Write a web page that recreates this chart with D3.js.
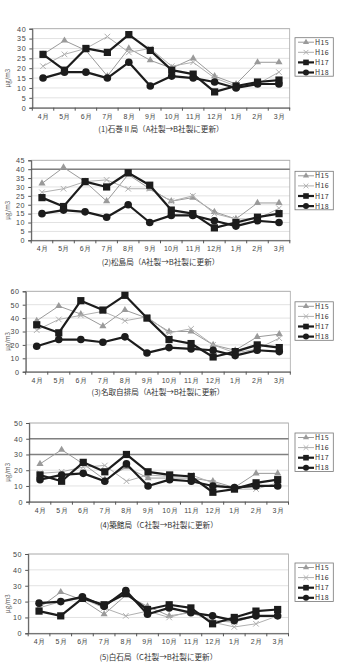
<!DOCTYPE html>
<html><head><meta charset="utf-8">
<script src="https://cdn.jsdelivr.net/npm/d3@7"></script>
<style>
body{margin:0;background:#fff;}
svg{display:block;font-family:"Noto Sans CJK JP","Noto Sans",sans-serif;}
</style></head>
<body><svg id="c" width="339" height="663"></svg>
<script>
const months = ["4月","5月","6月","7月","8月","9月","10月","11月","12月","1月","2月","3月"];
const seriesNames = ["H15","H16","H17","H18"];
const captions = [
  "(1)石巻Ⅱ局（A社製→B社製に更新）",
  "(2)松島局（A社製→B社製に更新）",
  "(3)名取自排局（A社製→B社製に更新）",
  "(4)築館局（C社製→B社製に更新）",
  "(5)白石局（C社製→B社製に更新）"
];
const yMaxes = [40, 45, 60, 50, 50];
const ySteps = [5, 5, 10, 10, 10];

// (1) 石巻Ⅱ局
const st1H15 = [27,34,29,16,30,24,20,25,16,12,23,23];
const st1H16 = [21,27,30,36,28,30,21,23,15,11,12,18];
const st1H17 = [27,19,30,28,37,29,19,17,8,11,13,14];
const st1H18 = [15,18,18,15,23,11,16,15,13,10,12,12];
// (2) 松島局
const st2H15 = [32,41,33,22,37,29,22,24,16,12,21,21];
const st2H16 = [27,29,33,34,29,29,22,25,15,12,12,18];
const st2H17 = [24,19,33,30,38,31,17,15,7,10,13,15];
const st2H18 = [15,17,16,13,20,10,14,14,11,8,11,10];
// (3) 名取自排局
const st3H15 = [38,49,43,34,46,40,30,30,20,16,26,28];
const st3H16 = [31,39,42,45,38,41,29,32,20,14,17,25];
const st3H17 = [35,29,53,46,57,40,24,21,11,15,20,18];
const st3H18 = [19,24,24,22,26,14,18,17,16,12,16,15];
// (4) 築館局
const st4H15 = [24,33,24,14,22,15,15,15,13,9,18,18];
const st4H16 = [18,19,22,23,13,17,16,17,12,8,8,12];
const st4H17 = [17,13,25,19,30,19,17,16,6,8,12,14];
const st4H18 = [14,17,18,13,24,10,14,13,10,9,10,10];
// (5) 白石局
const st5H15 = [16,26,21,12,24,17,11,13,8,7,11,11];
const st5H16 = [16,20,22,16,11,14,10,14,7,4,6,11];
const st5H17 = [14,11,22,18,25,15,18,16,6,10,14,15];
const st5H18 = [19,20,23,17,27,12,16,13,11,8,11,11];

const stations = [
  [st1H15,st1H16,st1H17,st1H18],
  [st2H15,st2H16,st2H17,st2H18],
  [st3H15,st3H16,st3H17,st3H18],
  [st4H15,st4H16,st4H17,st4H18],
  [st5H15,st5H16,st5H17,st5H18]
];
// reference lines (standard lines) per chart
const refLines = [[], [40], [], [40,30], []];

// layout (positions only)
const layout = [
  {top:28.7, bottom:107.7, left:32.3, right:289.7, cap:21.5, leg:9},
  {top:160.3, bottom:240.3, left:31.2, right:289.8, cap:21.7, leg:11},
  {top:291.3, bottom:371.7, left:25.7, right:290.3, cap:20, leg:10.5},
  {top:423, bottom:501.7, left:29.2, right:288.5, cap:23.3, leg:10},
  {top:554, bottom:633.3, left:28.2, right:288.5, cap:23.7, leg:9}
];
const styles = [
  {color:"#9a9a9a", w:1, marker:"triangle"},
  {color:"#b0b0b0", w:1, marker:"cross"},
  {color:"#1c1c1c", w:2.2, marker:"square"},
  {color:"#1c1c1c", w:2.2, marker:"circle"}
];

const svg = d3.select("#c");

function drawMarker(g, type, x, y, color, big){
  const s = big ? 1 : 0.75;
  if(type==="triangle"){
    g.append("path").attr("d", d3.symbol().type(d3.symbolTriangle).size(22*s)())
      .attr("transform",`translate(${x},${y})`).attr("fill",color);
  } else if(type==="cross"){
    g.append("path").attr("d", d3.symbol().type(d3.symbolX).size(22*s)())
      .attr("transform",`translate(${x},${y})`).attr("fill","none").attr("stroke",color).attr("stroke-width",1);
  } else if(type==="square"){
    const h = big?3.6:2.8;
    g.append("rect").attr("x",x-h).attr("y",y-h).attr("width",2*h).attr("height",2*h).attr("fill",color);
  } else {
    g.append("circle").attr("cx",x).attr("cy",y).attr("r",big?3.8:3).attr("fill",color);
  }
}

stations.forEach((data, i) => {
  const L = layout[i];
  const g = svg.append("g");
  const x = d3.scalePoint().domain(months).range([L.left, L.right]).padding(0.5);
  const y = d3.scaleLinear().domain([0, yMaxes[i]]).range([L.bottom, L.top]);
  const ticks = d3.range(0, yMaxes[i] + 0.001, ySteps[i]);

  // gridlines
  g.append("g").selectAll("line").data(ticks.filter(t=>t>0)).join("line")
    .attr("x1",L.left).attr("x2",L.right).attr("y1",d=>y(d)).attr("y2",d=>y(d))
    .attr("stroke","#e2e2e2").attr("stroke-width",1);
  // border
  g.append("rect").attr("x",L.left).attr("y",L.top).attr("width",L.right-L.left).attr("height",L.bottom-L.top)
    .attr("fill","none").attr("stroke","#a8a8a8").attr("stroke-width",0.8);
  // reference lines
  refLines[i].forEach(v=>{
    g.append("line").attr("x1",L.left).attr("x2",L.right).attr("y1",y(v)).attr("y2",y(v))
      .attr("stroke","#808080").attr("stroke-width",1.6);
  });

  // y axis
  const ya = g.append("g").attr("transform",`translate(${L.left},0)`)
    .call(d3.axisLeft(y).tickValues(ticks).tickSize(3).tickPadding(3));
  ya.select(".domain").attr("stroke","#555");
  ya.selectAll(".tick line").attr("stroke","#555");
  ya.selectAll("text").attr("font-size",7.2).attr("fill","#444").attr("letter-spacing",0.6);

  // x axis
  const xa = g.append("g").attr("transform",`translate(0,${L.bottom})`)
    .call(d3.axisBottom(x).tickSize(0).tickPadding(6));
  xa.select(".domain").attr("stroke","#555");
  xa.selectAll("text").attr("font-size",7).attr("fill","#444").attr("letter-spacing",0.3);
  const bw = x.step();
  g.append("g").selectAll("line").data(d3.range(months.length+1)).join("line")
    .attr("x1",d=>L.left+d*bw).attr("x2",d=>L.left+d*bw)
    .attr("y1",L.bottom).attr("y2",L.bottom+3).attr("stroke","#555");

  // y label
  g.append("text").attr("transform",`translate(${10},${(L.top+L.bottom)/2+10}) rotate(-90)`)
    .attr("text-anchor","middle").attr("font-size",6).attr("fill","#555").text("μg/m3");

  // lines
  data.forEach((vals, si) => {
    const st = styles[si];
    const line = d3.line().x((d,k)=>x(months[k])).y(d=>y(d));
    g.append("path").datum(vals).attr("d",line).attr("fill","none")
      .attr("stroke",st.color).attr("stroke-width",st.w).attr("stroke-linejoin","round");
    vals.forEach((v,k)=> drawMarker(g, st.marker, x(months[k]), y(v), st.color, true));
  });

  // caption
  g.append("text").attr("x",(L.left+L.right)/2).attr("y",L.bottom+L.cap+3)
    .attr("text-anchor","middle").attr("font-size",7.6).attr("fill","#333").text(captions[i]);

  // legend
  const lx = 295, ly = L.top + L.leg, lw = 38.3, lh = 38.5;
  const lg = g.append("g");
  lg.append("rect").attr("x",lx).attr("y",ly).attr("width",lw).attr("height",lh)
    .attr("fill","#fff").attr("stroke","#777").attr("stroke-width",0.8);
  seriesNames.forEach((nm, si)=>{
    const st = styles[si];
    const ry = ly + 4.5 + si*10.1;
    lg.append("line").attr("x1",lx+3).attr("x2",lx+19).attr("y1",ry).attr("y2",ry)
      .attr("stroke",st.color).attr("stroke-width",st.w);
    drawMarker(lg, st.marker, lx+11, ry, st.color, false);
    lg.append("text").attr("x",lx+20).attr("y",ry+2.5).attr("font-size",7).attr("fill","#333").attr("letter-spacing",0.4).text(nm);
  });
});
</script>
</body></html>
